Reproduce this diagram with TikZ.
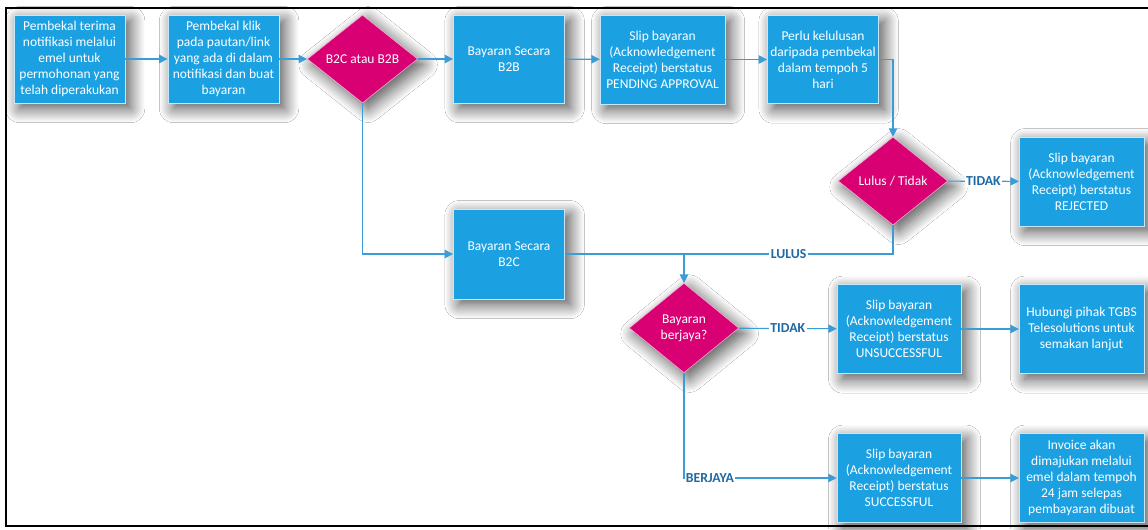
\documentclass[tikz,border=0pt]{standalone}
\usepackage{fontspec}
\setmainfont{Carlito}
\usepackage{xcolor}
\usetikzlibrary{shapes.geometric,
	arrows.meta,
	shadows.blur,
	positioning}

\definecolor{boxblue}{HTML}{1BA1E2}
\definecolor{decmagenta}{HTML}{D80073}
\definecolor{linkblue}{HTML}{3A9DD8}
\definecolor{labelblue}{HTML}{1E6AA6}

\tikzset{
	softshadow/.style={blur shadow={shadow blur steps=14, shadow xshift=4pt, shadow yshift=-4pt, shadow blur radius=10pt, shadow opacity=70}},
	stepbox/.style={rectangle, fill=boxblue, draw=white!75!boxblue, line width=0.4pt, text=white, align=center, inner sep=1.5pt, minimum width=2.78cm, minimum height=2.2cm, softshadow, font=\fontsize{9.6}{11.4}\selectfont},
	widebox/.style={stepbox, minimum width=3.12cm, minimum height=2.22cm},
	decision/.style={diamond, aspect=1.25, fill=decmagenta, draw=white!70!decmagenta, line width=0.4pt, text=white, align=center, inner sep=0pt, minimum width=2.76cm, minimum height=2.2cm, softshadow, font=\fontsize{9.6}{11.4}\selectfont},
	link/.style={draw=linkblue, line width=0.8pt, -{Triangle[length=6pt,width=6pt]}},
	answer/.style={fill=white, text=labelblue, font=\fontsize{9.8}{11.4}\selectfont\bfseries, inner xsep=1pt, inner ysep=1.5pt}
}

\begin{document}
\begin{tikzpicture}[x=0.025cm, y=-0.025cm]
	\useasboundingbox (0,0) rectangle (1148,529);
	\fill[white] (0,0) rectangle (1148,529);
	\draw[line width=2pt] (1148,8) -- (6,8) -- (6,526) -- (1148,526);

	% top row
	\node (terima) [stepbox] at (69.5,59) {Pembekal terima\\notifikasi melalui\\emel untuk\\permohonan yang\\telah diperakukan};
	\node (klik) [stepbox] at (223.5,59) {Pembekal klik\\pada pautan/link\\yang ada di dalam\\notifikasi dan buat\\bayaran};
	\node (jenis) [decision] at (362.5,59) {B2C atau B2B};
	\node (btob) [stepbox] at (509,59) {Bayaran Secara\\B2B};
	\node (pending) [widebox] at (662.5,59.5) {Slip bayaran\\(Acknowledgement\\Receipt) berstatus\\PENDING APPROVAL};
	\node (kelulusan) [stepbox] at (823,59.5) {Perlu kelulusan\\daripada pembekal\\dalam tempoh 5\\hari};

	% approval
	\node (lulustidak) [decision, minimum width=2.74cm] at (893,181) {Lulus / Tidak};
	\node (rejected) [widebox] at (1081.5,181.5) {Slip bayaran\\(Acknowledgement\\Receipt) berstatus\\REJECTED};

	% B2C and payment result
	\node (btoc) [stepbox, minimum height=2.25cm] at (509,254) {Bayaran Secara\\B2C};
	\coordinate (junction) at (684,254);
	\node (berjaya) [decision, minimum width=2.74cm, minimum height=2.24cm] at (684,328) {Bayaran\\berjaya?};
	\node (unsuccessful) [widebox, minimum width=3.1cm] at (899,329) {Slip bayaran\\(Acknowledgement\\Receipt) berstatus\\UNSUCCESSFUL};
	\node (hubungi) [widebox] at (1081.5,329) {Hubungi pihak TGBS\\Telesolutions untuk\\semakan lanjut};
	\node (successful) [widebox, minimum width=3.1cm] at (899,478) {Slip bayaran\\(Acknowledgement\\Receipt) berstatus\\SUCCESSFUL};
	\node (invoice) [widebox] at (1081.5,478) {Invoice akan\\dimajukan melalui\\emel dalam tempoh\\24 jam selepas\\pembayaran dibuat};

	% connectors
	\draw[link] (terima) -- (klik);
	\draw[link] (klik) -- (jenis);
	\draw[link] (jenis) -- (btob);
	\draw[link] (btob) -- (pending);
	\draw[link] (pending) -- (kelulusan);
	\draw[link] (kelulusan.east) -| (lulustidak.north);
	\draw[link] (lulustidak) -- node[answer] {TIDAK} (rejected);
	\draw[link] (jenis.south) |- (btoc.west);
	\draw[link, -] (btoc.east) -- (junction);
	\draw[link, -] (lulustidak.south) |- node[answer, pos=0.75] {LULUS} (junction);
	\draw[link] (junction) -- (berjaya.north);
	\draw[link] (berjaya) -- node[answer] {TIDAK} (unsuccessful);
	\draw[link] (unsuccessful) -- (hubungi);
	\draw[link] (berjaya.south) |- node[answer, pos=0.5, anchor=west] {BERJAYA} (successful.west);
	\draw[link] (successful) -- (invoice);
\end{tikzpicture}
\end{document}
